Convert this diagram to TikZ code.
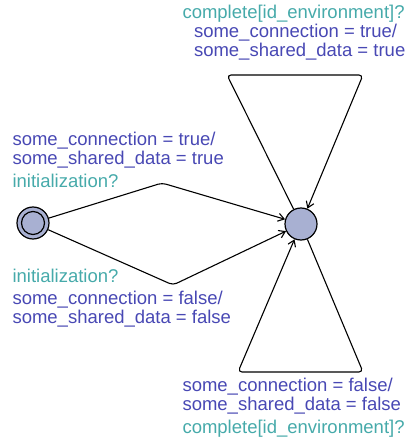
\documentclass[tikz,border=0pt]{standalone}
\usepackage{fontspec}
\setmainfont{Liberation Sans}
\usetikzlibrary{arrows.meta}
\definecolor{assigncol}{RGB}{72,72,180}
\definecolor{synccol}{RGB}{70,170,170}
\definecolor{locfill}{RGB}{168,176,210}
\tikzset{
  lbl/.style={inner sep=0pt, outer sep=0pt, anchor=base west,
              font=\fontsize{18.5bp}{19bp}\selectfont},
  assign/.style={lbl, text=assigncol},
  sync/.style={lbl, text=synccol},
  loc/.style={circle, draw=black, line width=1.2bp, fill=locfill,
              minimum size=32bp, inner sep=0pt},
  edge/.style={draw=black, line width=1.1bp, rounded corners=4bp,
               -{Straight Barb[length=6bp,width=8bp,line width=1.1bp]}}
}
\begin{document}
\begin{tikzpicture}[x=1bp, y=-1bp]
\useasboundingbox (0,0) rectangle (406,444);

% locations
\node[loc] (init) at (33,223) {};
\node[loc, minimum size=23bp] (initin) at (33,223) {};
\node[loc] (run) at (301,224) {};

% nails of the edges
\coordinate (n1) at (162,183);
\coordinate (n2) at (173,285);
\coordinate (t1) at (227,75);
\coordinate (t2) at (363,75);
\coordinate (b1) at (363,372);
\coordinate (b2) at (238,372);

% edges
\draw[edge] (init) -- (n1) -- (run);
\draw[edge] (init) -- (n2) -- (run);
\draw[edge] (run) -- (t1) -- (t2) -- (run);
\draw[edge] (run) -- (b1) -- (b2) -- (run);

% labels of the upper initialisation edge
\node[assign] (a1) at (12.5,146) {some\_connection = true/};
\node[assign] (a2) at (12.5,165) {some\_shared\_data = true};
\node[sync]   (s1) at (12.5,187.5) {initialization?};

% labels of the lower initialisation edge
\node[sync]   (s2) at (12.5,282) {initialization?};
\node[assign] (a3) at (12.5,304.5) {some\_connection = false/};
\node[assign] (a4) at (12.5,323.5) {some\_shared\_data = false};

% labels of the upper self loop
\node[sync]   (s3) at (182.5,18.5) {complete[id\_environment]?};
\node[assign] (a5) at (194,37.5) {some\_connection = true/};
\node[assign] (a6) at (194,56.5) {some\_shared\_data = true};

% labels of the lower self loop
\node[assign] (a7) at (182.5,391.5) {some\_connection = false/};
\node[assign] (a8) at (182.5,410.5) {some\_shared\_data = false};
\node[sync]   (s4) at (182.5,433.5) {complete[id\_environment]?};
\end{tikzpicture}
\end{document}
